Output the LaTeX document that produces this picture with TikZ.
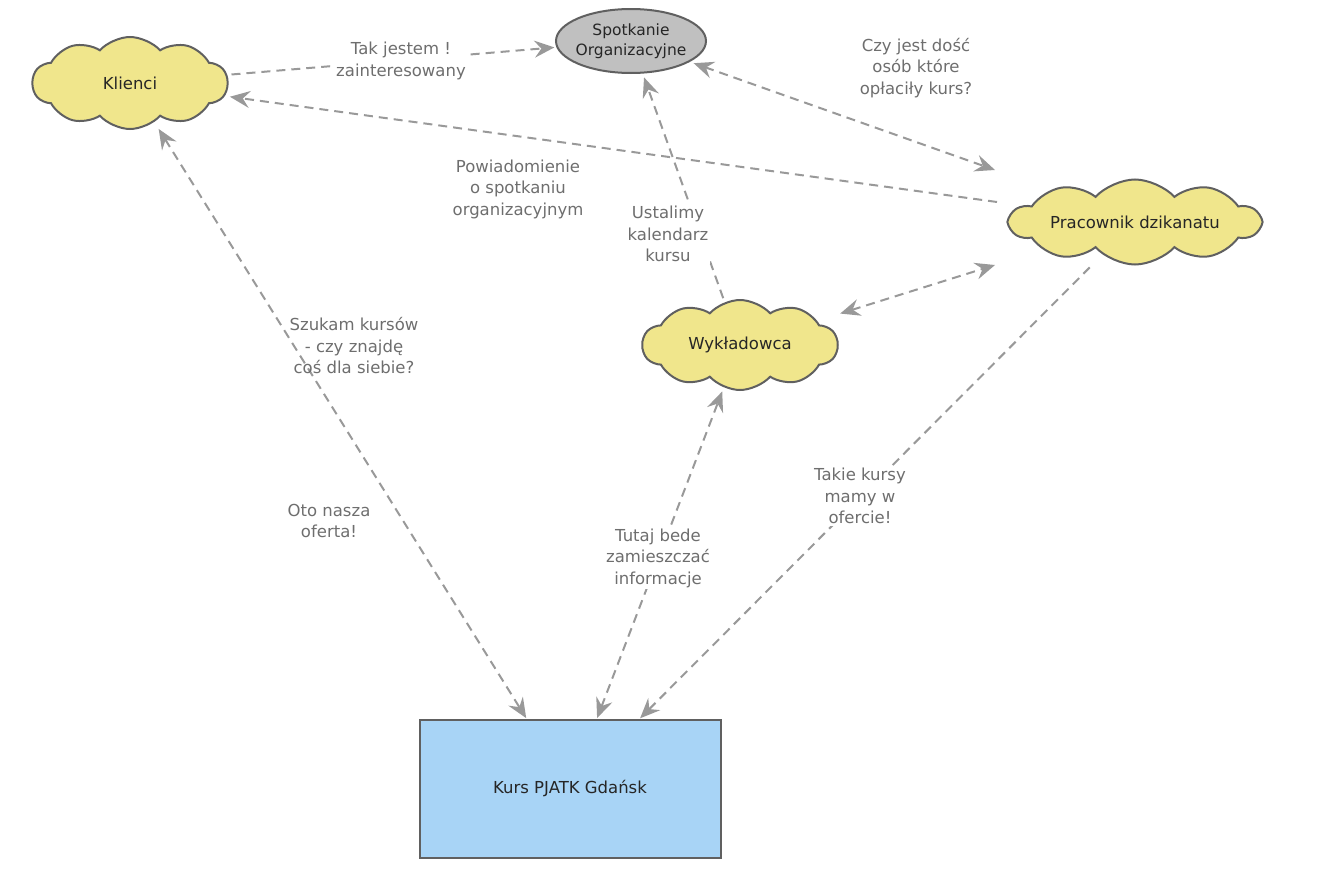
\documentclass[tikz,border=0pt]{standalone}
\usepackage{fontspec}
\setmainfont{DejaVu Sans}
\usetikzlibrary{shapes.geometric,shapes.symbols,arrows.meta,calc}

\definecolor{cloudfill}{RGB}{240,230,140}
\definecolor{edgegray}{RGB}{96,96,96}
\definecolor{linkgray}{RGB}{153,153,153}
\definecolor{labelgray}{RGB}{110,110,110}
\definecolor{meetfill}{RGB}{192,192,192}
\definecolor{coursefill}{RGB}{168,212,246}

\tikzset{
  actor/.style={cloud, cloud puffs=10, cloud puff arc=95, draw=edgegray, line width=2pt,
    fill=cloudfill, inner xsep=-40pt, inner ysep=0pt, text=black!85, font=\fontsize{16.5}{20}\selectfont},
  arr/.tip={Stealth[length=20pt,width=17pt,inset=7pt]},
  link/.style={draw=linkgray, line width=2pt, dash pattern=on 9pt off 6pt, -arr},
  linkboth/.style={link, arr-arr},
  msg/.style={text=labelgray, align=center, font=\fontsize{16.5}{21.5}\selectfont, inner sep=2pt},
}

\begin{document}
\begin{tikzpicture}[x=1pt,y=1pt,yscale=-1]
\useasboundingbox (0,0) rectangle (1331,886);

% actors
\node[actor, minimum width=195, minimum height=92, aspect=2.12] (kl) at (130,83) {Klienci};
\node[actor, minimum width=250, minimum height=85, aspect=2.94] (pr) at (1135,222) {Pracownik dzikanatu};
\node[actor, minimum width=195, minimum height=90, aspect=2.17] (wy) at (740,345) {Wykładowca};
\node[ellipse, draw=edgegray, line width=2pt, fill=meetfill, minimum width=150, minimum height=64,
  inner xsep=-11pt, inner ysep=2pt, align=center, text=black!85, font=\fontsize{15.5}{20.5}\selectfont] (sp) at (631,41) {Spotkanie\\Organizacyjne};
\node[rectangle, draw=edgegray, line width=2pt, fill=coursefill, minimum width=301, minimum height=138,
  text=black!85, font=\fontsize{16.5}{20}\selectfont] (ku) at (570,789) {Kurs PJATK Gdańsk};

% free ends beside the dean's office cloud
\coordinate (pr-sp) at ($(pr.center)+(-140,-52)$);
\coordinate (pr-kl) at ($(pr.center)+(-138,-20)$);
\coordinate (pr-wy) at ($(pr.center)+(-140,43)$);

% connectors
\draw[link, shorten <=4pt, shorten >=2pt] (kl) -- (sp);
\draw[link, shorten >=5pt] (pr-kl) -- (kl);
\draw[linkboth, shorten <=4pt] (sp) -- (pr-sp);
\draw[link, shorten <=4pt, shorten >=4pt] (wy) -- (sp);
\draw[linkboth, shorten <=24pt] (wy) -- (pr-wy);
\draw[linkboth, shorten <=8pt, shorten >=1pt] (kl) -- (ku);
\draw[linkboth, shorten <=1pt, shorten >=4pt] (ku) -- (wy);
\draw[link, shorten <=18pt, shorten >=1pt] (pr) -- (ku);

% messages
\node[msg, fill=white] (m1) at (401,61) {Tak jestem !\\zainteresowany};
\node[msg] (m2) at (916,68) {Czy jest dość\\osób które\\opłaciły kurs?};
\node[msg] (m3) at (518,189) {Powiadomienie\\o spotkaniu\\organizacyjnym};
\node[msg, fill=white] (m4) at (668,234) {Ustalimy\\kalendarz\\kursu};
\node[msg] (m5) at (354,346) {Szukam kursów\\- czy znajdę\\coś dla siebie?};
\node[msg] (m6) at (329,521) {Oto nasza\\oferta!};
\node[msg, fill=white] (m7) at (658,558) {Tutaj bede\\zamieszczać\\informacje};
\node[msg, fill=white] (m8) at (860,496) {Takie kursy\\mamy w\\ofercie!};

\end{tikzpicture}
\end{document}
